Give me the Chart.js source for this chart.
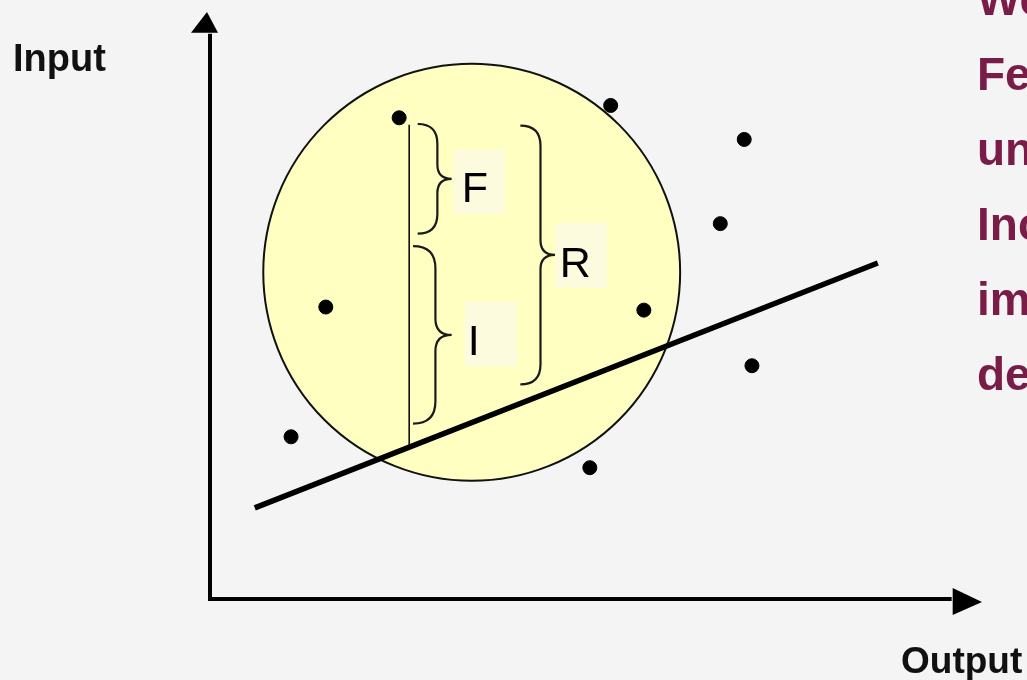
<!DOCTYPE html>
<html>
<head>
<meta charset="utf-8">
<script src="https://cdn.jsdelivr.net/npm/chart.js@4"></script>
<style>
  html, body { margin: 0; padding: 0; background: #f4f4f4; }
  #wrap { width: 1027px; height: 680px; position: relative; }
</style>
</head>
<body>
<div id="wrap"><canvas id="diagram"></canvas></div>
<script>
// Streudiagramm: Output (x) gegen Input (y), in Diagramm-Einheiten
const pointsX = [2.45, 5.19, 6.92, 6.61, 1.50, 5.62, 7.02, 1.05, 4.92];
const pointsY = [6.23, 6.39, 5.95, 4.86, 3.78, 3.74, 3.02, 2.10, 1.70];

// Regressionsgerade (zwei Endpunkte)
const lineX = [0.58, 8.65];
const lineY = [1.18, 4.35];

// Abstand Punkt -> Gerade (senkrechte Linie)
const residX = [2.58, 2.58];
const residY = [6.14, 1.99];

// Kreis um die Punktwolke
const circleCenter = [3.39, 4.23];
const circleRadius = 2.70;

// geschweifte Klammern: [x, yOben, yUnten, xSpitze]
const braceF = [2.69, 6.15, 4.73, 3.13];
const braceI = [2.63, 4.57, 2.27, 3.13];
const braceR = [4.02, 6.13, 2.78, 4.47];

// Beschriftungen der Klammern
const braceLabels = ['F', 'I', 'R'];
const labelX = [3.26, 3.34, 4.53];
const labelY = [5.14, 3.16, 4.17];
const boxX = [[3.15, 3.82], [3.30, 3.98], [4.47, 5.14]];
const boxY = [[4.99, 5.82], [3.01, 3.85], [4.03, 4.87]];

// Achsen
const axisMaxX = 10;
const axisMaxY = 7.6;
const arrowBaseX = 9.62;
const arrowBaseY = 7.33;

// Text rechts (abgeschnitten)
const sideText = ['We', 'Fe', 'un', 'Inc', 'im', 'de'];

const colors = { fill: '#ffffc1', box: '#fdfbde', ink: '#000000', side: '#7a1c48' };

function drawBrace(ctx, sx, sy, b) {
    const x0 = sx.getPixelForValue(b[0]);
    const yTop = sy.getPixelForValue(b[1]);
    const yBot = sy.getPixelForValue(b[2]);
    const xt = sx.getPixelForValue(b[3]);
    const yMid = (yTop + yBot) / 2;
    const xm = x0 + (xt - x0) * 0.58;
    const r1 = xm - x0;
    const r2 = xt - xm;
    ctx.beginPath();
    ctx.moveTo(x0, yTop);
    ctx.quadraticCurveTo(xm, yTop, xm, yTop + r1);
    ctx.lineTo(xm, yMid - r2);
    ctx.quadraticCurveTo(xm, yMid, xt, yMid);
    ctx.quadraticCurveTo(xm, yMid, xm, yMid + r2);
    ctx.lineTo(xm, yBot - r1);
    ctx.quadraticCurveTo(xm, yBot, x0, yBot);
    ctx.stroke();
}

const diagramPlugin = {
    id: 'diagram',
    beforeDatasetsDraw(chart) {
        const ctx = chart.ctx;
        const sx = chart.scales.x, sy = chart.scales.y;

        // Kreis
        const cx = sx.getPixelForValue(circleCenter[0]);
        const cy = sy.getPixelForValue(circleCenter[1]);
        const r = sx.getPixelForValue(circleCenter[0] + circleRadius) - cx;
        ctx.save();
        ctx.beginPath();
        ctx.arc(cx, cy, r, 0, Math.PI * 2);
        ctx.fillStyle = colors.fill;
        ctx.fill();
        ctx.lineWidth = 2;
        ctx.strokeStyle = '#111';
        ctx.stroke();

        // Achsen mit Pfeilen
        const x0 = sx.getPixelForValue(0), y0 = sy.getPixelForValue(0);
        const xEnd = sx.getPixelForValue(axisMaxX), yEnd = sy.getPixelForValue(axisMaxY);
        const xBase = sx.getPixelForValue(arrowBaseX), yBase = sy.getPixelForValue(arrowBaseY);
        ctx.lineWidth = 4;
        ctx.strokeStyle = colors.ink;
        ctx.lineCap = 'butt';
        ctx.beginPath();
        ctx.moveTo(x0, yBase + 1);
        ctx.lineTo(x0, y0);
        ctx.lineTo(xBase - 1, y0);
        ctx.stroke();
        ctx.fillStyle = colors.ink;
        ctx.beginPath();
        ctx.moveTo(x0 - 3, yEnd);
        ctx.lineTo(x0 + 8, yBase);
        ctx.lineTo(x0 - 19, yBase);
        ctx.closePath();
        ctx.fill();
        ctx.beginPath();
        ctx.moveTo(xEnd, y0 + 3);
        ctx.lineTo(xBase, y0 - 11);
        ctx.lineTo(xBase, y0 + 16);
        ctx.closePath();
        ctx.fill();
        ctx.restore();
    },
    afterDatasetsDraw(chart) {
        const ctx = chart.ctx;
        const sx = chart.scales.x, sy = chart.scales.y;
        ctx.save();

        // Klammern
        ctx.lineWidth = 2.2;
        ctx.strokeStyle = '#1a1a1a';
        [braceF, braceI, braceR].forEach(b => drawBrace(ctx, sx, sy, b));

        // Beschriftungen F, I, R
        braceLabels.forEach((t, i) => {
            const bx0 = sx.getPixelForValue(boxX[i][0]), bx1 = sx.getPixelForValue(boxX[i][1]);
            const by0 = sy.getPixelForValue(boxY[i][1]), by1 = sy.getPixelForValue(boxY[i][0]);
            ctx.fillStyle = colors.box;
            ctx.fillRect(bx0, by0, bx1 - bx0, by1 - by0);
            ctx.fillStyle = colors.ink;
            ctx.font = '43px "Liberation Sans", Arial, sans-serif';
            ctx.textAlign = 'left';
            ctx.textBaseline = 'alphabetic';
            ctx.fillText(t, sx.getPixelForValue(labelX[i]), sy.getPixelForValue(labelY[i]));
        });

        // Achsentitel
        ctx.fillStyle = '#111';
        ctx.font = 'bold 38px "Liberation Sans", Arial, sans-serif';
        ctx.fillText('Input', 13, 71);
        ctx.font = 'bold 37px "Liberation Sans", Arial, sans-serif';
        ctx.fillText('Output', 901, 673);

        // Text am rechten Rand
        ctx.fillStyle = colors.side;
        ctx.font = 'bold 46px "Liberation Sans", Arial, sans-serif';
        sideText.forEach((t, i) => ctx.fillText(t, 977, 15 + i * 75));
        ctx.restore();
    }
};

const ctx = document.getElementById('diagram').getContext('2d');
new Chart(ctx, {
    type: 'scatter',
    data: {
        datasets: [
            {
                type: 'line',
                label: 'Regression',
                data: lineX.map((x, i) => ({ x: x, y: lineY[i] })),
                borderColor: colors.ink,
                borderWidth: 5.5,
                pointRadius: 0,
                fill: false
            },
            {
                type: 'line',
                label: 'Abstand',
                data: residX.map((x, i) => ({ x: x, y: residY[i] })),
                borderColor: colors.ink,
                borderWidth: 1.5,
                pointRadius: 0,
                fill: false
            },
            {
                label: 'Daten',
                data: pointsX.map((x, i) => ({ x: x, y: pointsY[i] })),
                backgroundColor: colors.ink,
                borderColor: colors.ink,
                pointRadius: 7,
                pointHoverRadius: 7
            }
        ]
    },
    options: {
        responsive: true,
        maintainAspectRatio: false,
        animation: false,
        layout: { padding: { left: 210, right: 45, top: 12, bottom: 81 } },
        plugins: { legend: { display: false }, tooltip: { enabled: false } },
        scales: {
            x: { type: 'linear', min: 0, max: axisMaxX, display: false },
            y: { type: 'linear', min: 0, max: axisMaxY, display: false }
        }
    },
    plugins: [diagramPlugin]
});
</script>
</body>
</html>
